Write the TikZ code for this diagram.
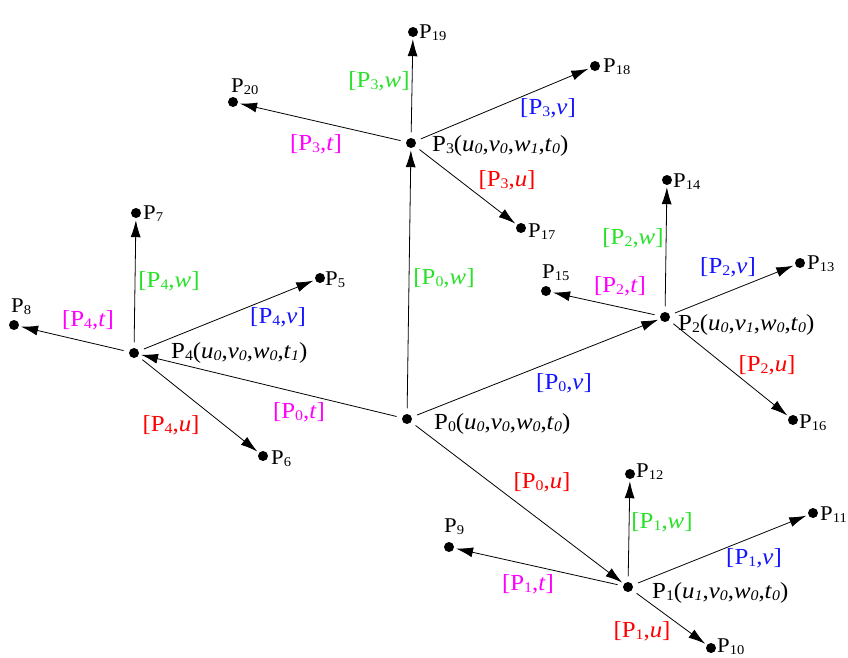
\documentclass[tikz,border=0pt]{standalone}
\usepackage{fontspec}
\setmainfont[FakeStretch=1.08]{Liberation Serif}
\usetikzlibrary{arrows.meta}
\definecolor{cg}{RGB}{40,225,40}
\definecolor{cm}{RGB}{255,0,255}
\definecolor{cr}{RGB}{255,0,0}
\definecolor{cb}{RGB}{20,20,255}
\newcommand\dsub[1]{\raisebox{-0.1em}{\scalebox{0.64}{#1}}}
\newcommand\isub[1]{\raisebox{-0.1em}{\scalebox{0.64}{\itshape #1}}}
\newcommand\tup[4]{(\textit{u}\isub{#1},\textit{v}\isub{#2},\textit{w}\isub{#3},\textit{t}\isub{#4})}
\begin{document}
\begin{tikzpicture}[x=1pt,y=-1pt,
  dot/.style={circle,fill=black,inner sep=0pt,minimum size=10pt},
  mainlbl/.style={anchor=base west,inner sep=0pt,font=\fontsize{23}{23}\selectfont},
  leaflbl/.style={anchor=base west,inner sep=0pt,font=\fontsize{21}{21}\selectfont},
  elbl/.style={inner sep=0pt,font=\fontsize{23}{23}\selectfont},
  arr/.style={-{Latex[length=17pt,width=10pt]},line width=0.8pt,shorten <=5.5pt,shorten >=2pt}]
\useasboundingbox (0,0) rectangle (848,657);
% dots
\node[dot] (p0) at (407,419) {};
\node[dot] (p1) at (628,587) {};
\node[dot] (p2) at (665,317) {};
\node[dot] (p3) at (411,143) {};
\node[dot] (p4) at (134,353) {};
\node[dot] (p5) at (320,278) {};
\node[dot] (p6) at (263,456) {};
\node[dot] (p7) at (136,213) {};
\node[dot] (p8) at (14,325) {};
\node[dot] (p9) at (449,547) {};
\node[dot] (p10) at (711,648) {};
\node[dot] (p11) at (813,513) {};
\node[dot] (p12) at (630,474) {};
\node[dot] (p13) at (800,263) {};
\node[dot] (p14) at (667,180) {};
\node[dot] (p15) at (546,291) {};
\node[dot] (p16) at (793,420) {};
\node[dot] (p17) at (521,228) {};
\node[dot] (p18) at (595,66) {};
\node[dot] (p19) at (413,32) {};
\node[dot] (p20) at (233,102) {};
% main labels
\node[mainlbl] (l0) at (434,429) {P\dsub{0}\tup{0}{0}{0}{0}};
\node[mainlbl] (l1) at (652,598) {P\dsub{1}\tup{1}{0}{0}{0}};
\node[mainlbl] (l2) at (678,330) {P\dsub{2}\tup{0}{1}{0}{0}};
\node[mainlbl] (l3) at (432,151) {P\dsub{3}\tup{0}{0}{1}{0}};
\node[mainlbl] (l4) at (171,358) {P\dsub{4}\tup{0}{0}{0}{1}};
% leaf labels
\node[leaflbl] (l5) at (325,285) {P\dsub{5}};
\node[leaflbl] (l6) at (271,464) {P\dsub{6}};
\node[leaflbl] (l7) at (143,219) {P\dsub{7}};
\node[leaflbl] (l8) at (11,312) {P\dsub{8}};
\node[leaflbl] (l9) at (444,532) {P\dsub{9}};
\node[leaflbl] (l10) at (717,652) {P\dsub{10}};
\node[leaflbl] (l11) at (820,520) {P\dsub{11}};
\node[leaflbl] (l12) at (636,477) {P\dsub{12}};
\node[leaflbl] (l13) at (807,269) {P\dsub{13}};
\node[leaflbl] (l14) at (673,187) {P\dsub{14}};
\node[leaflbl] (l15) at (542,278) {P\dsub{15}};
\node[leaflbl] (l16) at (799,428) {P\dsub{16}};
\node[leaflbl] (l17) at (528,237) {P\dsub{17}};
\node[leaflbl] (l18) at (603,72) {P\dsub{18}};
\node[leaflbl] (l19) at (419,38) {P\dsub{19}};
\node[leaflbl] (l20) at (231,92) {P\dsub{20}};
% edges
\draw[arr] (p0) -- (p1);
\draw[arr] (p0) -- (p2);
\draw[arr] (p0) -- (p3);
\draw[arr] (p0) -- (p4);
\draw[arr] (p1) -- (p9);
\draw[arr] (p1) -- (p10);
\draw[arr] (p1) -- (p11);
\draw[arr] (p1) -- (p12);
\draw[arr] (p2) -- (p13);
\draw[arr] (p2) -- (p14);
\draw[arr] (p2) -- (p15);
\draw[arr] (p2) -- (p16);
\draw[arr] (p3) -- (p17);
\draw[arr] (p3) -- (p18);
\draw[arr] (p3) -- (p19);
\draw[arr] (p3) -- (p20);
\draw[arr] (p4) -- (p5);
\draw[arr] (p4) -- (p6);
\draw[arr] (p4) -- (p7);
\draw[arr] (p4) -- (p8);
% edge labels
\node[elbl,text=cg] (e3w) at (379,81) {[P\dsub{3},\textit{w}]};
\node[elbl,text=cb] (e3v) at (548,108) {[P\dsub{3},\textit{v}]};
\node[elbl,text=cm] (e3t) at (316,144) {[P\dsub{3},\textit{t}]};
\node[elbl,text=cr] (e3u) at (507,180) {[P\dsub{3},\textit{u}]};
\node[elbl,text=cg] (e0w) at (444,278) {[P\dsub{0},\textit{w}]};
\node[elbl,text=cb] (e0v) at (564,383) {[P\dsub{0},\textit{v}]};
\node[elbl,text=cm] (e0t) at (299,412) {[P\dsub{0},\textit{t}]};
\node[elbl,text=cr] (e0u) at (542,482) {[P\dsub{0},\textit{u}]};
\node[elbl,text=cg] (e2w) at (633,238) {[P\dsub{2},\textit{w}]};
\node[elbl,text=cb] (e2v) at (728,267) {[P\dsub{2},\textit{v}]};
\node[elbl,text=cm] (e2t) at (620,286) {[P\dsub{2},\textit{t}]};
\node[elbl,text=cr] (e2u) at (767,365) {[P\dsub{2},\textit{u}]};
\node[elbl,text=cg] (e4w) at (169,281) {[P\dsub{4},\textit{w}]};
\node[elbl,text=cb] (e4v) at (278,317) {[P\dsub{4},\textit{v}]};
\node[elbl,text=cm] (e4t) at (88,320) {[P\dsub{4},\textit{t}]};
\node[elbl,text=cr] (e4u) at (171,425) {[P\dsub{4},\textit{u}]};
\node[elbl,text=cg] (e1w) at (662,522) {[P\dsub{1},\textit{w}]};
\node[elbl,text=cb] (e1v) at (754,558) {[P\dsub{1},\textit{v}]};
\node[elbl,text=cm] (e1t) at (528,584) {[P\dsub{1},\textit{t}]};
\node[elbl,text=cr] (e1u) at (642,631) {[P\dsub{1},\textit{u}]};
\end{tikzpicture}
\end{document}
